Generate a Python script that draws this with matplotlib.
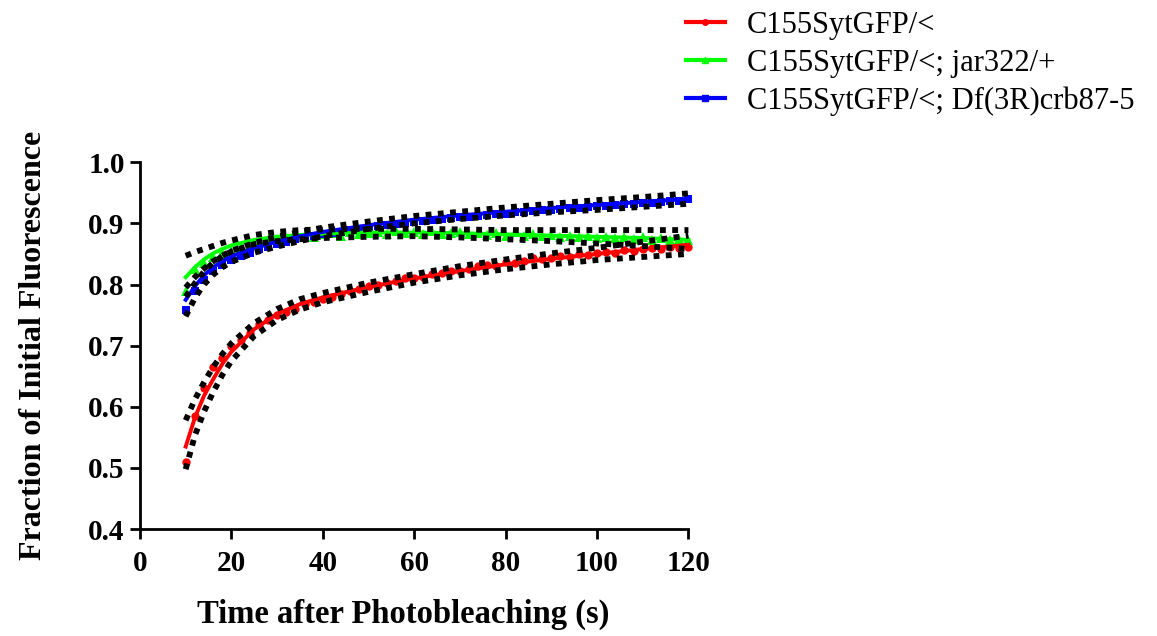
import matplotlib.pyplot as plt
from matplotlib.lines import Line2D

# 測定点 (2秒ごと)
t = list(range(10, 121, 2))

red = [0.510, 0.585, 0.630, 0.665, 0.680, 0.700, 0.710, 0.720, 0.735, 0.742,
       0.750, 0.755, 0.760, 0.768, 0.772, 0.777, 0.780, 0.785, 0.790, 0.792,
       0.798, 0.800, 0.803, 0.805, 0.810, 0.811, 0.812, 0.817, 0.818, 0.822,
       0.822, 0.826, 0.830, 0.832, 0.831, 0.836, 0.835, 0.838, 0.843, 0.841,
       0.844, 0.846, 0.845, 0.850, 0.848, 0.852, 0.853, 0.851, 0.857, 0.855,
       0.858, 0.860, 0.858, 0.862, 0.860, 0.862]
green = [0.790, 0.825, 0.835, 0.845, 0.852, 0.855, 0.860, 0.865, 0.868, 0.872,
         0.874, 0.876, 0.878, 0.880, 0.878, 0.882, 0.884, 0.880, 0.886, 0.882,
         0.884, 0.886, 0.883, 0.887, 0.884, 0.886, 0.883, 0.887, 0.882, 0.885,
         0.886, 0.882, 0.885, 0.881, 0.884, 0.880, 0.886, 0.880, 0.882, 0.879,
         0.881, 0.878, 0.880, 0.877, 0.879, 0.876, 0.878, 0.876, 0.877, 0.874,
         0.877, 0.873, 0.876, 0.872, 0.874, 0.872]
blue = [0.758, 0.790, 0.808, 0.822, 0.832, 0.840, 0.846, 0.852, 0.858, 0.862,
        0.866, 0.870, 0.874, 0.876, 0.880, 0.882, 0.885, 0.886, 0.889, 0.891,
        0.893, 0.896, 0.897, 0.899, 0.901, 0.903, 0.904, 0.905, 0.907, 0.908,
        0.910, 0.911, 0.912, 0.914, 0.915, 0.916, 0.918, 0.919, 0.920, 0.921,
        0.922, 0.923, 0.925, 0.925, 0.927, 0.928, 0.929, 0.930, 0.931, 0.932,
        0.933, 0.934, 0.935, 0.936, 0.937, 0.940]

# フィット曲線と95%信頼帯
t_fit = [10, 12, 14, 16, 18, 20, 25, 30, 35, 40, 50, 60, 70, 80, 90, 100, 110, 120]

red_fit = [0.535, 0.582, 0.618, 0.645, 0.670, 0.690, 0.727, 0.752, 0.768, 0.779,
           0.796, 0.810, 0.822, 0.833, 0.842, 0.850, 0.858, 0.865]
red_hi = [0.578, 0.612, 0.640, 0.665, 0.686, 0.704, 0.737, 0.760, 0.776, 0.786,
          0.803, 0.817, 0.830, 0.841, 0.851, 0.860, 0.870, 0.880]
red_lo = [0.498, 0.553, 0.592, 0.624, 0.652, 0.675, 0.716, 0.742, 0.759, 0.771,
          0.788, 0.803, 0.815, 0.825, 0.833, 0.840, 0.845, 0.850]

green_fit = [0.812, 0.828, 0.841, 0.851, 0.858, 0.864, 0.873, 0.878, 0.881, 0.883,
             0.885, 0.885, 0.884, 0.882, 0.880, 0.878, 0.876, 0.873]
green_hi = [0.847, 0.853, 0.858, 0.863, 0.868, 0.872, 0.881, 0.886, 0.889, 0.890,
            0.891, 0.891, 0.890, 0.889, 0.889, 0.889, 0.889, 0.889]
green_lo = [0.780, 0.802, 0.821, 0.836, 0.846, 0.854, 0.866, 0.871, 0.874, 0.876,
            0.878, 0.879, 0.877, 0.874, 0.871, 0.867, 0.863, 0.858]

blue_fit = [0.775, 0.797, 0.815, 0.828, 0.838, 0.846, 0.860, 0.870, 0.879, 0.886,
            0.897, 0.906, 0.913, 0.919, 0.925, 0.930, 0.935, 0.940]
blue_hi = [0.795, 0.812, 0.826, 0.838, 0.847, 0.855, 0.868, 0.878, 0.886, 0.893,
           0.903, 0.912, 0.919, 0.926, 0.932, 0.938, 0.943, 0.949]
blue_lo = [0.748, 0.778, 0.800, 0.816, 0.828, 0.837, 0.852, 0.862, 0.871, 0.879,
           0.891, 0.900, 0.907, 0.913, 0.918, 0.922, 0.927, 0.932]

labels = ["C155SytGFP/<", "C155SytGFP/<; jar322/+", "C155SytGFP/<; Df(3R)crb87-5"]
colors = ["#ff0000", "#00ff00", "#0000ff"]
markers = ["o", "^", "s"]
msizes = [6, 7, 6]

plt.rcParams['font.family'] = ['Liberation Serif', 'DejaVu Serif']

fig = plt.figure(figsize=(11.57, 6.36), dpi=100)
ax = fig.add_axes([0.121, 0.168, 0.474, 0.577])

series = [(red, red_fit, red_hi, red_lo),
          (green, green_fit, green_hi, green_lo),
          (blue, blue_fit, blue_hi, blue_lo)]

for (data, fit, hi, lo), c, m, ms in zip(series, colors, markers, msizes):
    ax.plot(t, data, linestyle="none", marker=m, ms=ms, color=c,
            markeredgewidth=0, clip_on=False, zorder=3)
    ax.plot(t_fit, fit, color=c, lw=2.8, clip_on=False, zorder=4)

for data, fit, hi, lo in series:
    for band in (hi, lo):
        ax.plot(t_fit, band, color="black", lw=4.2, dashes=(1, 1.1),
                dash_capstyle="butt", clip_on=False, zorder=5)

ax.set_xlim(0, 120)
ax.set_ylim(0.4, 1.0)
ax.set_xticks([0, 20, 40, 60, 80, 100, 120])
ax.set_yticks([0.4, 0.5, 0.6, 0.7, 0.8, 0.9, 1.0])
ax.set_yticklabels(["0.4", "0.5", "0.6", "0.7", "0.8", "0.9", "1.0"])

for s in ["top", "right"]:
    ax.spines[s].set_visible(False)
for s in ["left", "bottom"]:
    ax.spines[s].set_linewidth(2)
ax.tick_params(direction="out", length=7, width=2, labelsize=21)
ax.tick_params(axis="x", pad=8)
ax.tick_params(axis="y", pad=4)
for lab in ax.get_xticklabels() + ax.get_yticklabels():
    lab.set_fontweight("bold")

ax.set_xlabel("Time after Photobleaching (s)", fontsize=23.5, fontweight="bold", labelpad=14)
ax.set_ylabel("Fraction of Initial Fluorescence", fontsize=23, fontweight="bold", labelpad=29)
ax.xaxis.set_label_coords(0.48, -0.19)

handles = [Line2D([0], [0], color=c, lw=3, marker=m, ms=4) for c, m in zip(colors, markers)]
fig.legend(handles, labels, loc="upper left", bbox_to_anchor=(0.569, 1.026),
           frameon=False, fontsize=22, handlelength=1.27, handletextpad=0.73,
           labelspacing=0.29)

fig.savefig("out.png", dpi=100)
